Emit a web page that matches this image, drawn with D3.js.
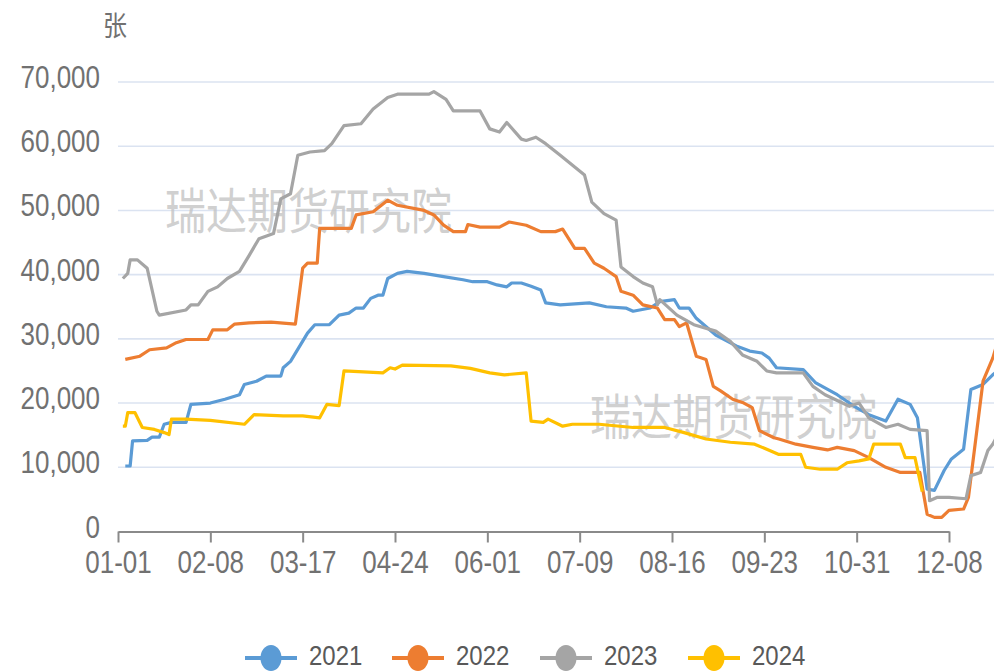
<!DOCTYPE html>
<html>
<head>
<meta charset="utf-8">
<script src="https://cdn.jsdelivr.net/npm/d3@7"></script>
<style>
  html, body { margin: 0; padding: 0; background: #fff; overflow: hidden; }
  text { font-family: "Liberation Sans", Arial, "Noto Sans CJK SC", sans-serif; }
</style>
</head>
<body>
<svg id="chart" width="994" height="672"></svg>
<script>
// ---- data ----
var years = ['2021', '2022', '2023', '2024'];
var colors = ['#5B9BD5', '#ED7D31', '#A5A5A5', '#FFC000'];

var dates2021 = ['01-04','01-06','01-07','01-13','01-15','01-18','01-20','01-23','01-29','01-31','02-08','02-14','02-20','02-22','02-27','03-02','03-08','03-09','03-12','03-19','03-22','03-28','04-01','04-05','04-08','04-11','04-14','04-17','04-19','04-21','04-25','04-29','05-06','05-14','05-22','05-26','06-01','06-05','06-09','06-11','06-15','06-19','06-23','06-25','07-01','07-13','07-20','07-28','07-31','08-07','08-11','08-17','08-19','08-23','08-26','09-03','09-12','09-17','09-22','09-25','09-28','10-09','10-14','10-23','10-30','11-05','11-12','11-17','11-22','11-25','11-29','12-02','12-06','12-09','12-14','12-17','12-22','12-26','12-28'];
var vals2021 = [10200,10200,14100,14200,14700,14700,16700,17000,17000,19800,20000,20600,21300,22900,23400,24200,24200,25500,26500,30900,32200,32200,33700,34000,34800,34800,36300,36800,36800,39400,40200,40500,40200,39700,39200,38900,38900,38400,38100,38700,38700,38200,37600,35600,35300,35600,35000,34800,34300,34800,35800,36100,34800,34800,33200,30600,28800,28100,27800,27000,25500,25200,23200,21300,19500,18200,17200,20600,19800,17700,6600,6400,9500,11300,12800,22100,22900,24400,25000];

var dates2022 = ['01-04','01-10','01-14','01-21','01-25','01-29','02-07','02-09','02-15','02-18','02-24','03-04','03-14','03-17','03-19','03-23','03-24','04-06','04-08','04-15','04-21','04-25','05-06','05-10','05-14','05-18','05-23','05-24','05-29','06-06','06-10','06-17','06-23','06-29','07-02','07-07','07-11','07-15','07-19','07-24','07-26','07-31','08-04','08-10','08-13','08-17','08-19','08-22','08-26','08-30','09-02','09-05','09-10','09-14','09-18','09-21','09-27','09-29','10-06','10-13','10-19','10-23','10-30','11-05','11-12','11-18','11-26','11-29','12-02','12-05','12-08','12-14','12-16','12-22','12-26','12-28'];
var vals2022 = [26800,27300,28300,28600,29400,29900,29900,31400,31400,32300,32500,32600,32300,41000,41800,41800,47200,47200,49300,49800,51600,50800,50000,49300,47700,46700,46700,47800,47400,47400,48200,47700,46700,46700,47100,44100,44100,41800,41000,39700,37400,36800,35300,34800,33000,33000,31900,32500,27300,26800,22600,21900,20600,20100,19300,15700,14600,14400,13600,13100,12700,13100,12600,11500,10000,9200,9200,2700,2200,2200,3300,3500,5300,23400,27000,29500];

var dates2023 = ['01-03','01-05','01-06','01-09','01-13','01-17','01-18','01-29','01-31','02-03','02-07','02-11','02-15','02-20','02-24','02-28','03-05','03-08','03-12','03-15','03-20','03-26','03-29','04-03','04-10','04-15','04-21','04-25','05-08','05-10','05-15','05-18','05-29','06-02','06-06','06-09','06-15','06-17','06-21','06-25','07-01','07-11','07-14','07-19','07-24','07-26','07-31','08-04','08-08','08-10','08-11','08-18','08-25','09-03','09-09','09-14','09-20','09-24','09-28','10-09','10-13','10-18','10-28','11-01','11-05','11-12','11-17','11-22','11-29','11-30','12-03','12-08','12-15','12-17','12-21','12-24','12-26','12-28'];
var vals2023 = [39400,40200,42300,42300,41000,34300,33700,34500,35300,35300,37400,38100,39400,40500,43000,45600,46400,51800,52600,58600,59100,59300,60400,63200,63500,65800,67600,68100,68100,68500,67300,65500,65500,62700,62200,63700,61100,60900,61400,60400,58600,55500,51300,49500,48500,41200,39700,38700,38100,35300,36100,33700,32200,31200,29600,27500,26500,25000,24700,24700,22600,21300,19500,20000,17700,16200,16700,15900,15700,4800,5300,5300,5100,8700,9200,12600,13600,15000];

var dates2024 = ['01-03','01-04','01-05','01-08','01-11','01-16','01-20','01-22','01-23','01-29','02-08','02-22','02-26','03-09','03-17','03-24','03-27','04-01','04-03','04-19','04-22','04-24','04-27','05-17','05-25','06-02','06-08','06-17','06-19','06-24','06-26','07-02','07-06','07-17','07-31','08-13','08-21','08-30','09-09','09-19','09-24','09-29','10-08','10-10','10-16','10-23','10-27','11-01','11-05','11-07','11-18','11-20','11-24','11-27'];
var vals2024 = [16400,16400,18500,18500,16200,15900,15400,15100,17500,17500,17300,16700,18200,18000,18000,17700,19800,19600,25000,24700,25500,25300,25900,25800,25400,24700,24400,24700,17200,17000,17500,16400,16700,16700,16200,16200,15400,14400,13900,13600,12800,12000,12000,10000,9700,9700,10700,11000,11300,13600,13600,11500,11500,6200];

var xTickLabels = ['01-01','02-08','03-17','04-24','06-01','07-09','08-16','09-23','10-31','12-08'];
var yTicks = [0, 10000, 20000, 30000, 40000, 50000, 60000, 70000];
var unitLabel = '张';
var watermark = '瑞达期货研究院';

var seriesDates = [dates2021, dates2022, dates2023, dates2024];
var seriesVals = [vals2021, vals2022, vals2023, vals2024];

// ---- drawing ----
var svg = d3.select('#chart');
var stretch = 'scale(1,1.18)';
var textColor = '#717171';

// all years laid onto one (leap) year so the month-day ticks line up
var parseMD = d3.utcParse('%Y-%m-%d');
function md(s) { return parseMD('2024-' + s); }

var x = d3.scaleUtc()
	.domain([md('01-01'), md('12-08')])
	.range([118, 949]);

var y = d3.scaleLinear()
	.domain([0, 70000])
	.range([531.5, 82]);

// grid
svg.append('g')
	.selectAll('line')
	  .data(yTicks.slice(1))
	.enter().append('line')
		.attr('x1', 118)
		.attr('x2', 994)
		.attr('y1', function (d) { return y(d); })
		.attr('y2', function (d) { return y(d); })
		.attr('stroke', '#dbe3f1')
		.attr('stroke-width', 1.6);

// y labels
svg.append('g')
	.selectAll('text')
	  .data(yTicks)
	.enter().append('text')
		.attr('transform', function (d) { return 'translate(100,' + (y(d) + 6) + ') ' + stretch; })
		.attr('text-anchor', 'end')
		.attr('fill', textColor)
		.style('font-size', '26px')
		.text(function (d) { return d3.format(',')(d); });

svg.append('text')
	.attr('transform', 'translate(103,36) ' + stretch)
	.attr('fill', textColor)
	.style('font-family', '"Noto Sans CJK SC", sans-serif')
	.style('font-size', '24px')
	.text(unitLabel);

// watermarks
[[165, 229], [590, 435]].forEach(function (p) {
	svg.append('text')
		.attr('transform', 'translate(' + p[0] + ',' + p[1] + ') ' + stretch)
		.attr('fill', '#c4c4c4')
		.attr('fill-opacity', 0.8)
		.style('font-family', '"Noto Sans CJK SC", sans-serif')
		.style('font-size', '41px')
		.text(watermark);
});

// x axis
var xAxis = d3.axisBottom(x)
	.tickValues(xTickLabels.map(md))
	.tickFormat(d3.utcFormat('%m-%d'))
	.tickSize(11)
	.tickSizeOuter(0);

var gx = svg.append('g')
	.attr('transform', 'translate(0,' + y(0) + ')')
	.call(xAxis);

gx.select('.domain')
	.attr('stroke', '#8a8a8a')
	.attr('stroke-width', 2.2);
gx.selectAll('.tick line')
	.attr('stroke', '#8a8a8a')
	.attr('stroke-width', 2);
gx.selectAll('.tick text')
	.attr('y', null)
	.attr('dy', null)
	.attr('transform', 'translate(0,41) ' + stretch)
	.attr('fill', textColor)
	.style('font-size', '26px')
	.style('font-family', '"Liberation Sans", Arial, sans-serif');

// lines
var line = d3.line()
	.x(function (d) { return x(d[0]); })
	.y(function (d) { return y(d[1]); });

svg.append('g')
	.selectAll('path')
	  .data(years)
	.enter().append('path')
		.attr('d', function (d, i) {
			return line(seriesDates[i].map(function (s, j) { return [md(s), seriesVals[i][j]]; }));
		})
		.attr('fill', 'none')
		.attr('stroke', function (d, i) { return colors[i]; })
		.attr('stroke-width', 3.2)
		.attr('stroke-linejoin', 'round');

// legend
var legendX = [245, 392, 540, 688];
var item = svg.append('g')
	.selectAll('g')
	  .data(years)
	.enter().append('g')
		.attr('transform', function (d, i) { return 'translate(' + legendX[i] + ',658)'; });

item.append('line')
	.attr('x1', 0)
	.attr('x2', 52)
	.attr('stroke', function (d, i) { return colors[i]; })
	.attr('stroke-width', 4);

item.append('ellipse')
	.attr('cx', 26)
	.attr('rx', 10.5)
	.attr('ry', 13)
	.attr('fill', function (d, i) { return colors[i]; });

item.append('text')
	.attr('transform', 'translate(64,7) ' + stretch)
	.attr('fill', '#595959')
	.style('font-size', '24px')
	.text(function (d) { return d; });
</script>
</body>
</html>
